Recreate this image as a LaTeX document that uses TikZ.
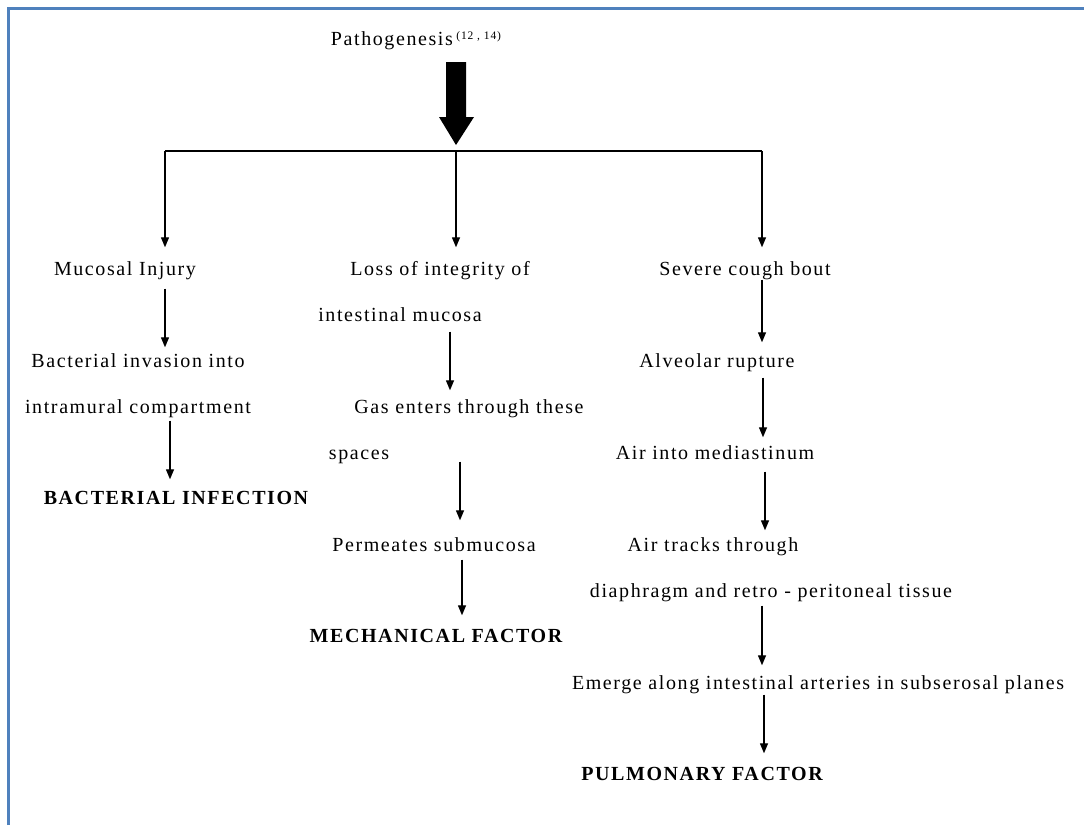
\documentclass[tikz,border=0pt]{standalone}
\usepackage{fontspec}
\setmainfont{Liberation Serif}[LetterSpace=8]
\usetikzlibrary{arrows.meta}
\definecolor{frameblue}{RGB}{79,129,189}
\begin{document}
\begin{tikzpicture}[x=1pt,y=-1pt,
  lbl/.style={inner sep=0pt, text height=13pt, text depth=4pt, yshift=-2pt, font=\fontsize{20}{23}\selectfont},
  hd/.style={lbl, font=\fontsize{20}{23}\selectfont\bfseries},
  conn/.style={draw=black, line width=1.3pt},
  arr/.style={conn, -{Triangle[width=8pt,length=10pt]}}]
\useasboundingbox (0,0) rectangle (1084,825);
% frame
\draw[frameblue, line width=3pt] (8.5,825) -- (8.5,8.5) -- (1084,8.5);
% title
\node[lbl] (path) at (416,39) {Pathogenesis\,\raisebox{6pt}{\fontsize{11.5}{13}\selectfont(12 , 14)}};
% big arrow
\coordinate (bigtip) at (456,145);
\fill[black] (446,62) -- (466,62) -- (466,117) -- (474,117) -- (bigtip) -- (439,117) -- (446,117) -- cycle;
% branch bar
\coordinate (bl) at (165,151);
\coordinate (bm) at (456,151);
\coordinate (br) at (762,151);
\draw[conn] (bl) -- (br);
% nodes
\node[lbl] (mucosal) at (125,269) {Mucosal Injury};
\node[lbl] (loss) at (440,269) {Loss of integrity of};
\node[lbl] (cough) at (745,269) {Severe cough bout};
\node[lbl] (intmuc) at (400,315) {intestinal mucosa};
\node[lbl] (bact1) at (138,361) {Bacterial invasion into};
\node[lbl] (bact2) at (138,407) {intramural compartment};
\node[hd] (binf) at (176,498) {BACTERIAL INFECTION};
\node[lbl] (gas1) at (469,407) {Gas enters through these};
\node[lbl] (gas2) at (359,453) {spaces};
\node[lbl] (perm) at (434,545) {Permeates submucosa};
\node[hd] (mech) at (436,636) {MECHANICAL FACTOR};
\node[lbl] (alv) at (717,361) {Alveolar rupture};
\node[lbl] (air) at (715,453) {Air into mediastinum};
\node[lbl] (track1) at (713,545) {Air tracks through};
\node[lbl] (track2) at (771,591) {diaphragm and retro - peritoneal tissue};
\node[lbl] (emerge) at (818,683) {Emerge along intestinal arteries in subserosal planes};
\node[hd] (pulm) at (702,774) {PULMONARY FACTOR};
% drops
\draw[arr, shorten >=15pt] (bl) -- (mucosal.north -| bl);
\draw[arr, shorten >=15pt] (bm) -- (loss.north -| bm);
\draw[arr, shorten >=15pt] (br) -- (cough.north -| br);
% left column
\draw[arr, shorten <=9pt, shorten >=7pt] (mucosal.south -| 165,0) -- (bact1.north -| 165,0);
\draw[arr, shorten <=3pt, shorten >=12pt] (bact2.south -| 170,0) -- (binf.north -| 170,0);
% middle column
\draw[arr, shorten <=6pt, shorten >=10pt] (intmuc.south -| 450,0) -- (gas1.north -| 450,0);
\draw[arr, shorten <=-2pt, shorten >=18pt] (gas2.south -| 460,0) -- (perm.north -| 460,0);
\draw[arr, shorten <=4pt, shorten >=14pt] (perm.south -| 462,0) -- (mech.north -| 462,0);
% right column
\draw[arr, shorten <=0pt, shorten >=12pt] (cough.south -| 762,0) -- (alv.north -| 762,0);
\draw[arr, shorten <=6pt, shorten >=9pt] (alv.south -| 763,0) -- (air.north -| 763,0);
\draw[arr, shorten <=8pt, shorten >=8pt] (air.south -| 765,0) -- (track1.north -| 765,0);
\draw[arr, shorten <=4pt, shorten >=11pt] (track2.south -| 762,0) -- (emerge.north -| 762,0);
\draw[arr, shorten <=1pt, shorten >=14pt] (emerge.south -| 764,0) -- (pulm.north -| 764,0);
\end{tikzpicture}
\end{document}
